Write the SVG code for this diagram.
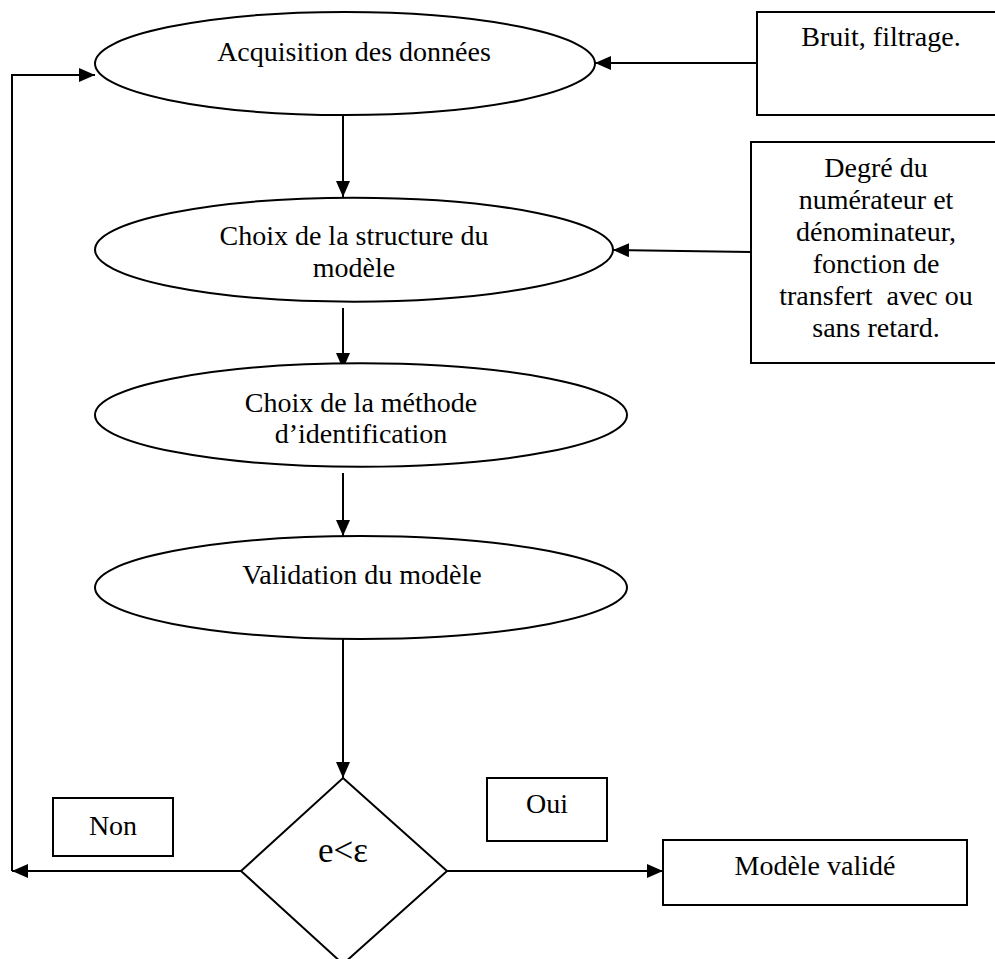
<svg xmlns="http://www.w3.org/2000/svg" width="995" height="959" viewBox="0 0 995 959">
<defs>
<style>
.s{fill:#fff;stroke:#000;stroke-width:2}
.c{fill:none;stroke:#000;stroke-width:2}
text{font-family:"Liberation Serif","Times New Roman",serif;font-size:28px;fill:#000;text-anchor:middle}
text.big{font-size:35px}
</style>
<marker id="ah" viewBox="0 0 16 14" refX="16" refY="7" markerWidth="16" markerHeight="14" markerUnits="userSpaceOnUse" orient="auto">
<path d="M0,0 L16,7 L0,14 Z" fill="#000"/>
</marker>
</defs>
<rect width="995" height="959" fill="#fff"/>
<g id="connectors">
<line class="c" x1="757" y1="63" x2="595" y2="63" marker-end="url(#ah)"/>
<line class="c" x1="751" y1="252" x2="613" y2="250" marker-end="url(#ah)"/>
<line class="c" x1="343" y1="115" x2="343" y2="197" marker-end="url(#ah)"/>
<line class="c" x1="343" y1="308" x2="343" y2="369" marker-end="url(#ah)"/>
<line class="c" x1="343" y1="473" x2="343" y2="536" marker-end="url(#ah)"/>
<line class="c" x1="343" y1="639" x2="343" y2="778" marker-end="url(#ah)"/>
<line class="c" x1="241" y1="871" x2="12" y2="871" marker-end="url(#ah)"/>
<polyline class="c" points="12,871 12,75 95,75" marker-end="url(#ah)"/>
<line class="c" x1="447" y1="871" x2="663" y2="871" marker-end="url(#ah)"/>
</g>
<g id="acquisition">
<ellipse class="s" cx="345" cy="63.5" rx="250" ry="51.5"/>
<text x="354" y="61">Acquisition des données</text>
</g>
<g id="bruit">
<rect class="s" x="757" y="12" width="260" height="103"/>
<text x="881" y="46">Bruit, filtrage.</text>
</g>
<g id="structure">
<ellipse class="s" cx="354" cy="249.7" rx="259" ry="52"/>
<text x="354" y="245">Choix de la structure du</text>
<text x="354" y="277">modèle</text>
</g>
<g id="degre">
<rect class="s" x="751" y="142" width="260" height="221"/>
<text x="876" y="177">Degré du</text>
<text x="876" y="209">numérateur et</text>
<text x="876" y="241">dénominateur,</text>
<text x="876" y="273">fonction de</text>
<text x="876" y="305" xml:space="preserve">transfert  avec ou</text>
<text x="876" y="337">sans retard.</text>
</g>
<g id="methode">
<ellipse class="s" cx="361" cy="415" rx="266" ry="51.7"/>
<text x="361" y="412">Choix de la méthode</text>
<text x="361" y="443">d’identification</text>
</g>
<g id="validation">
<ellipse class="s" cx="361" cy="587.5" rx="266" ry="51.5"/>
<text x="362" y="584">Validation du modèle</text>
</g>
<g id="decision">
<polygon class="s" points="343,778 447,871 343,964 241,871"/>
<text class="big" x="343" y="862">e&lt;ε</text>
</g>
<g id="non">
<rect class="s" x="53" y="798" width="120" height="58"/>
<text x="113" y="835">Non</text>
</g>
<g id="oui">
<rect class="s" x="487" y="778" width="120" height="63"/>
<text x="547" y="813">Oui</text>
</g>
<g id="valide">
<rect class="s" x="663" y="840" width="304" height="65"/>
<text x="815" y="875">Modèle validé</text>
</g>
</svg>
